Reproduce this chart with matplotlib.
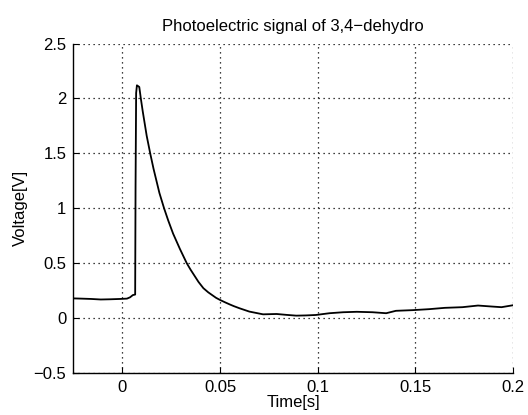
import matplotlib.pyplot as plt
import numpy as np

plt.rcParams['font.family'] = ['Liberation Sans', 'DejaVu Sans']

# Signal (time in s, voltage in V)
t = [-0.025, -0.021, -0.016, -0.011, -0.006, -0.001, 0.0024, 0.004, 0.0054, 0.0066,
     0.0068, 0.0071, 0.0075, 0.0087, 0.0095, 0.0105, 0.0115, 0.0125, 0.0143, 0.016,
     0.0175, 0.019, 0.0214, 0.0235, 0.026, 0.0295, 0.033, 0.035, 0.037, 0.039,
     0.0415, 0.044, 0.046, 0.048, 0.05, 0.0525, 0.055, 0.057, 0.060, 0.065,
     0.072, 0.079, 0.084, 0.089, 0.094, 0.099, 0.106, 0.113, 0.120, 0.128,
     0.135, 0.140, 0.1485, 0.157, 0.165, 0.174, 0.182, 0.189, 0.194, 0.2]
v = [0.18, 0.178, 0.175, 0.17, 0.172, 0.175, 0.178, 0.19, 0.21, 0.215,
     1.2, 2.05, 2.12, 2.105, 2.0, 1.88, 1.77, 1.66, 1.5, 1.36,
     1.25, 1.14, 1.0, 0.89, 0.77, 0.63, 0.5, 0.44, 0.385, 0.33,
     0.273, 0.235, 0.21, 0.185, 0.166, 0.145, 0.125, 0.11, 0.09, 0.06,
     0.035, 0.038, 0.03, 0.023, 0.025, 0.029, 0.045, 0.054, 0.058, 0.054,
     0.045, 0.067, 0.073, 0.082, 0.094, 0.1, 0.115, 0.106, 0.1, 0.118]

x_ticks = [0, 0.05, 0.1, 0.15, 0.2]
x_labels = ["0", "0.05", "0.1", "0.15", "0.2"]
y_ticks = [-0.5, 0, 0.5, 1, 1.5, 2, 2.5]
y_labels = ["\u22120.5", "0", "0.5", "1", "1.5", "2", "2.5"]

fig = plt.figure(figsize=(5.28, 4.15), dpi=100)
ax = fig.add_axes([0.139, 0.101, 0.833, 0.794])

ax.plot(t, v, color="black", linewidth=1.3)

ax.set_xlim(-0.025, 0.2)
ax.set_ylim(-0.5, 2.5)
ax.set_xticks(x_ticks)
ax.set_xticklabels(x_labels)
ax.set_yticks(y_ticks)
ax.set_yticklabels(y_labels)

# MATLAB-like look: dotted grid, only left/bottom solid
ax.grid(True, color="black", linestyle=(0, (1, 3)), linewidth=0.9)
ax.spines["top"].set_visible(False)
ax.spines["right"].set_visible(False)
ax.spines["left"].set_linewidth(1.0)
ax.spines["bottom"].set_linewidth(1.0)
ax.tick_params(direction="in", length=4, labelsize=12, pad=5)

ax.set_title("Photoelectric signal of 3,4\u2212dehydro", fontsize=12, pad=9)
ax.set_xlabel("Time[s]", fontsize=12, labelpad=0)
ax.set_ylabel("Voltage[V]", fontsize=12, labelpad=4)

plt.savefig("out.png", dpi=100)
